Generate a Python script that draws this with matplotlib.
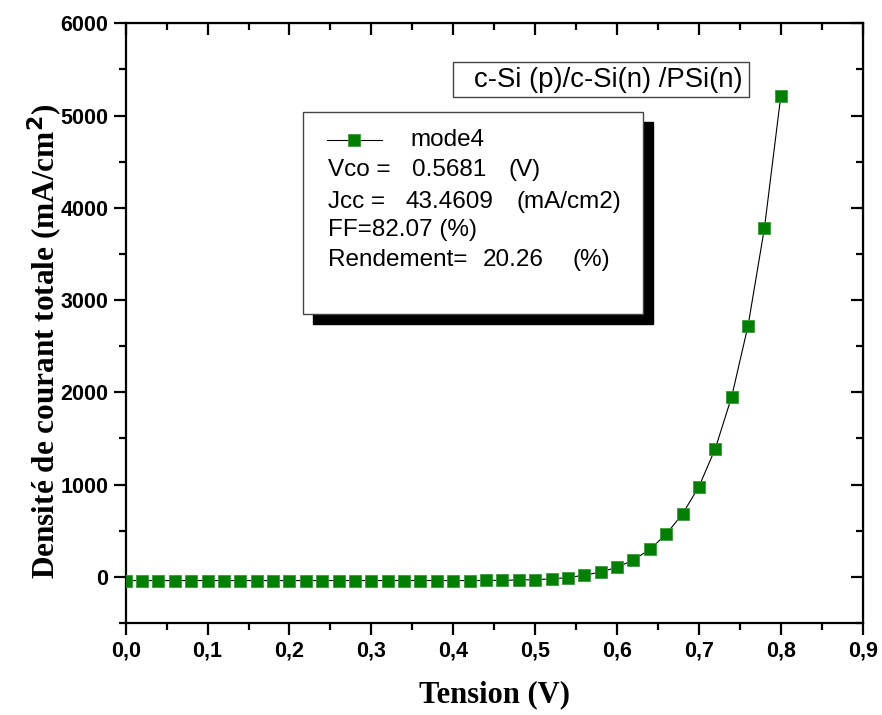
import numpy as np
import matplotlib.pyplot as plt
from matplotlib.patches import Rectangle
from matplotlib.lines import Line2D

# J-V curve, mode4
tension = [0.00, 0.02, 0.04, 0.06, 0.08, 0.10, 0.12, 0.14, 0.16, 0.18,
           0.20, 0.22, 0.24, 0.26, 0.28, 0.30, 0.32, 0.34, 0.36, 0.38,
           0.40, 0.42, 0.44, 0.46, 0.48, 0.50, 0.52, 0.54, 0.56, 0.58,
           0.60, 0.62, 0.64, 0.66, 0.68, 0.70, 0.72, 0.74, 0.76, 0.78, 0.80]
densite = [-40, -40, -40, -40, -40, -40, -40, -40, -40, -40,
           -40, -40, -40, -40, -40, -40, -40, -40, -40, -40,
           -40, -40, -39, -37, -34, -30, -21, -8, 18, 52,
           104, 183, 297, 462, 683, 978, 1390, 1953, 2723, 3781, 5214]

xticks = [0.0, 0.1, 0.2, 0.3, 0.4, 0.5, 0.6, 0.7, 0.8, 0.9]
xticklabels = ['0,0', '0,1', '0,2', '0,3', '0,4', '0,5', '0,6', '0,7', '0,8', '0,9']
yticks = [0, 1000, 2000, 3000, 4000, 5000, 6000]

plt.rcParams['font.family'] = 'Liberation Sans'
plt.rcParams['font.weight'] = 'bold'

W, H = 882, 715
fig = plt.figure(figsize=(W / 100, H / 100), dpi=100)
ax = fig.add_axes([125.7 / W, 1 - 623.0 / H, (862.7 - 125.7) / W, (623.0 - 23.3) / H])

ax.plot(tension, densite, color='black', lw=0.8, marker='s', ms=8.6,
        mfc='#008000', mec='#3a9a3a', mew=0.6, zorder=3)

ax.set_xlim(0, 0.9)
ax.set_ylim(-500, 6000)
ax.set_xticks(xticks)
ax.set_xticklabels(xticklabels)
ax.set_xticks(np.arange(0.05, 0.9, 0.1), minor=True)
ax.set_yticks(yticks)
ax.set_yticks(np.arange(-500, 6000, 1000), minor=True)

for s in ax.spines.values():
    s.set_linewidth(1.6)

ax.tick_params(which='both', direction='out', width=1.6, top=False, right=False,
               labelsize=15.5)
ax.tick_params(which='major', length=8.6)
ax.tick_params(which='minor', length=5)
ax.tick_params(axis='y', pad=4)
ax.tick_params(axis='x', pad=4)

# inward ticks on top and right
sec_x = ax.secondary_xaxis('top')
sec_x.set_xticks(xticks)
sec_x.set_xticks(np.arange(0.05, 0.9, 0.1), minor=True)
sec_x.tick_params(which='both', direction='in', width=1.6, labeltop=False)
sec_x.tick_params(which='major', length=8.6)
sec_x.tick_params(which='minor', length=5)
sec_y = ax.secondary_yaxis('right')
sec_y.set_yticks(yticks)
sec_y.set_yticks(np.arange(-500, 6000, 1000), minor=True)
sec_y.tick_params(which='both', direction='in', width=1.6, labelright=False)
sec_y.tick_params(which='major', length=8.6)
sec_y.tick_params(which='minor', length=5)

ax.set_xlabel('Tension (V)', family='Liberation Serif', weight='bold', fontsize=22)
ax.xaxis.set_label_coords(0.5, -0.095)
ax.set_ylabel('Densité de courant totale (mA/cm$^\\mathbf{2}$)', family='Liberation Serif',
              weight='bold', fontsize=22.5)
ax.yaxis.set_label_coords(-0.083, 0.47)


def px(x, y):
    # pixel position (from top-left) -> figure fraction
    return x / W, 1 - y / H


# legend box with black shadow
x0, y0 = px(313, 324)
fig.patches.append(Rectangle((x0, y0), 340 / W, 202 / H, transform=fig.transFigure,
                             facecolor='black', edgecolor='black', zorder=5))
x0, y0 = px(303, 314)
fig.patches.append(Rectangle((x0, y0), 340 / W, 202 / H, transform=fig.transFigure,
                             facecolor='white', edgecolor='#444444', lw=1.0, zorder=6))

lx0, ly = px(327, 140)
lx1, _ = px(382, 140)
fig.lines.append(Line2D([lx0, lx1], [ly, ly], transform=fig.transFigure, color='black',
                        lw=0.8, zorder=7))
mx, _ = px(354, 140)
fig.lines.append(Line2D([mx], [ly], transform=fig.transFigure, marker='s', ms=8.6,
                        mfc='#008000', mec='#3a9a3a', mew=0.6, ls='none', zorder=8))

font = dict(family='Liberation Sans', weight='normal', fontsize=17.5, va='center',
            ha='left', zorder=9)
legend_txt = [
    (410, 140, 'mode4'),
    (328, 170, 'Vco ='), (412, 170, '0.5681'), (509, 170, '(V)'),
    (328, 202, 'Jcc ='), (406, 202, '43.4609'), (517, 202, '(mA/cm2)'),
    (328, 230, 'FF=82.07 (%)'),
    (328, 260, 'Rendement='), (483, 260, '20.26'), (573, 260, '(%)'),
]
for x, y, t in legend_txt:
    fx, fy = px(x, y)
    fig.text(fx, fy, t, **font)

# title box
x0, y0 = px(453, 97)
fig.patches.append(Rectangle((x0, y0), 296 / W, 35 / H, transform=fig.transFigure,
                             facecolor='white', edgecolor='#444444', lw=1.0, zorder=6))
fx, fy = px(474, 80)
fig.text(fx, fy, 'c-Si (p)/c-Si(n) /PSi(n)', **dict(font, fontsize=19.8))

fig.savefig('out.png', dpi=100)
